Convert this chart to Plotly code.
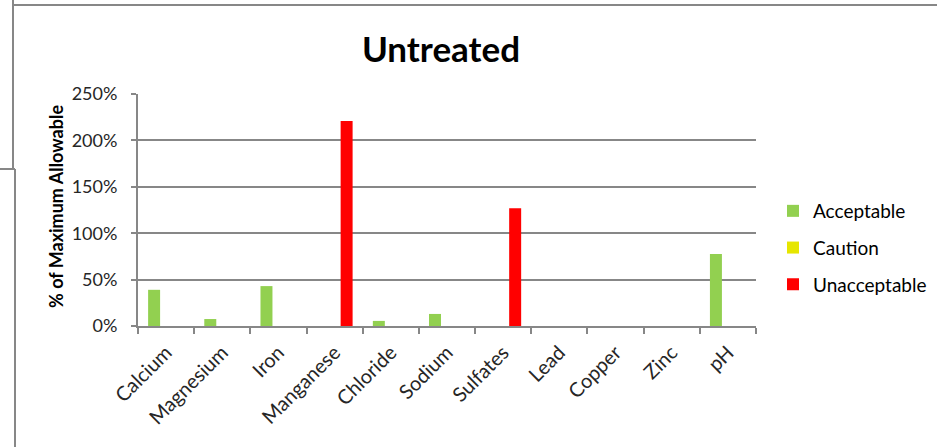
import plotly.graph_objects as go

categories = ["Calcium", "Magnesium", "Iron", "Manganese", "Chloride", "Sodium",
              "Sulfates", "Lead", "Copper", "Zinc", "pH"]
acceptable = [0.39, 0.075, 0.43, None, 0.055, 0.13, None, 0, 0, 0, 0.776]
caution = [0, 0, 0, 0, 0, 0, 0, 0, 0, 0, 0]
unacceptable = [None, None, None, 2.21, None, None, 1.27, None, None, None, None]
y_ticks = [0, 0.5, 1.0, 1.5, 2.0, 2.5]
y_ticklabels = ["0%", "50%", "100%", "150%", "200%", "250%"]

W, H = 937, 447
L, R, T, B = 138, 181, 94, 121
PW, PH = W - L - R, H - T - B

def px(x):
    return (x - L) / PW

def py(y):
    return (H - B - y) / PH

FONT = "Lato, 'Open Sans', sans-serif"

fig = go.Figure()
fig.add_trace(go.Bar(name="Acceptable", x=categories, y=acceptable,
                     marker=dict(color="#92D050", line=dict(width=0)), legendgroup="a"))
fig.add_trace(go.Bar(name="Caution", x=categories, y=caution,
                     marker=dict(color="#E6E600", line=dict(width=0)), legendgroup="b"))
fig.add_trace(go.Bar(name="Unacceptable", x=categories, y=unacceptable,
                     marker=dict(color="#FF0000", line=dict(width=0)), legendgroup="c"))

grey = "#878787"
shapes = [
    dict(type="line", xref="paper", yref="paper", x0=px(13), x1=px(937), y0=py(5), y1=py(5),
         line=dict(color=grey, width=2)),
    dict(type="line", xref="paper", yref="paper", x0=px(13), x1=px(13), y0=py(0), y1=py(169),
         line=dict(color=grey, width=2)),
    dict(type="line", xref="paper", yref="paper", x0=px(0), x1=px(15), y0=py(169), y1=py(169),
         line=dict(color=grey, width=2)),
    dict(type="line", xref="paper", yref="paper", x0=px(15), x1=px(15), y0=py(169), y1=py(447),
         line=dict(color=grey, width=2)),
]

fig.update_layout(
    width=W, height=H,
    margin=dict(l=L, r=R, t=T, b=B, autoexpand=False),
    paper_bgcolor="white", plot_bgcolor="white",
    barmode="group", bargap=0.36, bargroupgap=0,
    font=dict(family=FONT, size=18, color="#262626"),
    title=dict(text="<b>Untreated</b>", x=px(441), xref="paper", xanchor="center",
               y=1 - 50 / H, yref="container", yanchor="middle",
               font=dict(family=FONT, size=35, color="black")),
    xaxis=dict(type="category", showline=True, linecolor=grey, linewidth=2,
               ticks="outside", tickson="boundaries", ticklen=6, tickwidth=2, tickcolor=grey,
               tickangle=-45, showgrid=False, automargin=False, ticklabelstandoff=5,
               tickfont=dict(size=20, color="#262626")),
    yaxis=dict(range=[0, 2.5], tickvals=y_ticks, ticktext=y_ticklabels,
               showline=True, linecolor=grey, linewidth=2, automargin=False,
               ticks="outside", ticklen=5, tickwidth=2, tickcolor=grey,
               showgrid=True, gridcolor=grey, gridwidth=2, zeroline=False,
               ticklabelstandoff=10, tickfont=dict(size=18, color="#262626")),
    legend=dict(x=773 / W, y=1 - 192 / H, xref="container", yref="container",
                xanchor="left", yanchor="top", itemwidth=30,
                font=dict(family=FONT, size=19, color="black"),
                tracegroupgap=9, itemclick=False, bgcolor="rgba(0,0,0,0)"),
    shapes=shapes,
    annotations=[dict(text="<b>% of Maximum Allowable</b>", textangle=-90,
                      xref="paper", yref="paper", x=px(56), y=py(207),
                      xanchor="center", yanchor="middle", showarrow=False,
                      font=dict(family=FONT, size=18, color="black"))],
)

fig.write_html("out.html")
